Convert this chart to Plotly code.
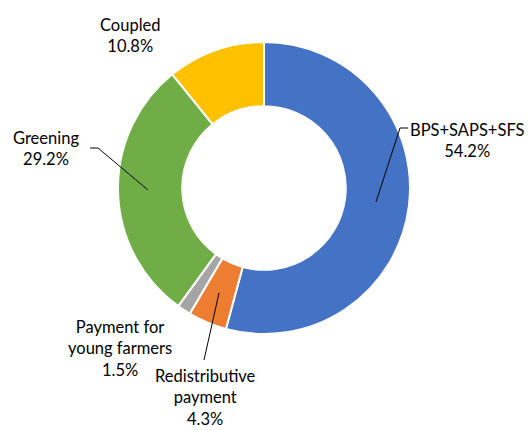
import plotly.graph_objects as go

# données
labels = ["BPS+SAPS+SFS", "Redistributive payment", "Payment for young farmers", "Greening", "Coupled"]
values = [54.2, 4.3, 1.5, 29.2, 10.8]
colors = ["#4472C4", "#ED7D31", "#A5A5A5", "#70AD47", "#FFC000"]
label_text = [
    "BPS+SAPS+SFS<br>54.2%",
    "Redistributive<br>payment<br>4.3%",
    "Payment for<br>young farmers<br>1.5%",
    "Greening<br>29.2%",
    "Coupled<br>10.8%",
]

W, H = 528, 430
FONT = "Lato, Calibri, sans-serif"


def px_x(x):
    return x / W


def px_y(y):
    return 1 - y / H


fig = go.Figure(
    go.Pie(
        labels=labels,
        values=values,
        hole=0.56,
        sort=False,
        direction="clockwise",
        rotation=0,
        marker=dict(colors=colors, line=dict(color="white", width=2)),
        textinfo="none",
        hoverinfo="label+percent",
        domain=dict(x=[px_x(118), px_x(410)], y=[px_y(334), px_y(42)]),
        showlegend=False,
    )
)

# étiquettes (position en pixels)
label_pos = [(467, 141), (205, 397), (120, 348), (46, 148), (130, 36)]
annotations = []
for txt, (x, y) in zip(label_text, label_pos):
    annotations.append(
        dict(
            x=px_x(x), y=px_y(y), xref="paper", yref="paper",
            text=txt, showarrow=False, align="center",
            xanchor="center", yanchor="middle",
            font=dict(family=FONT, size=16.5, color="#000000"),
        )
    )

# traits de rappel
leaders = [
    [(408, 128), (400, 128), (376, 202)],
    [(219, 293), (204, 360)],
    [(90, 148), (98, 148), (148, 190)],
]
shapes = []
for pts in leaders:
    for (x0, y0), (x1, y1) in zip(pts[:-1], pts[1:]):
        shapes.append(
            dict(type="line", xref="paper", yref="paper",
                 x0=px_x(x0), y0=px_y(y0), x1=px_x(x1), y1=px_y(y1),
                 line=dict(color="black", width=1))
        )

fig.update_layout(
    width=W,
    height=H,
    margin=dict(l=0, r=0, t=0, b=0),
    paper_bgcolor="white",
    plot_bgcolor="white",
    annotations=annotations,
    shapes=shapes,
)

# pas de marge du body, sinon la figure est décalée de 8 px
fig.write_html(
    "out.html",
    config={"displayModeBar": False},
    post_script="document.body.style.margin='0';",
)
